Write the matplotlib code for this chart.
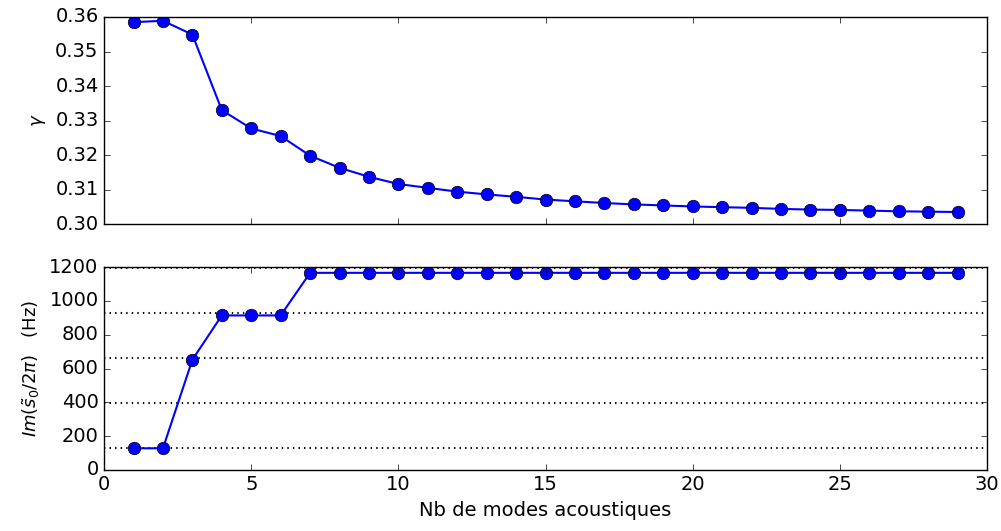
import numpy as np
import matplotlib
matplotlib.use("Agg")
import matplotlib.pyplot as plt

plt.style.use("classic")
plt.rcParams["mathtext.fontset"] = "dejavusans"

# Nb de modes acoustiques
n_modes = np.arange(1, 30)

# gamma vs number of modes
gamma = [0.3585, 0.3589, 0.3549, 0.3330, 0.3277, 0.3255, 0.3198, 0.3163,
         0.3137, 0.3116, 0.3105, 0.3094, 0.3086, 0.3079, 0.3071, 0.3066,
         0.3061, 0.3057, 0.3054, 0.3051, 0.3049, 0.3047, 0.3044, 0.3042,
         0.3041, 0.3039, 0.3037, 0.3036, 0.3035]

# Im(s0/2pi) in Hz
freq = [128, 128, 652, 914, 914, 914] + [1166] * 23

# acoustic mode frequencies (dotted reference lines)
ref_freqs = [130, 396, 662, 928, 1194]

fig = plt.figure(figsize=(10.01, 5.31), dpi=100)
fig.patch.set_facecolor("white")

ax1 = fig.add_axes([0.104, 0.578, 0.882, 0.390])
ax2 = fig.add_axes([0.104, 0.115, 0.882, 0.382])

ax1.plot(n_modes, gamma, "b-", lw=1.5, marker="o", ms=9, mfc="b", mec="k")
ax1.set_xlim(0, 30)
ax1.set_ylim(0.30, 0.36)
ax1.set_yticks([0.30, 0.31, 0.32, 0.33, 0.34, 0.35, 0.36])
ax1.set_xticklabels([])
ax1.set_ylabel(r"$\gamma$", fontsize=13)
ax1.tick_params(labelsize=14)

for f in ref_freqs:
    ax2.axhline(f, color="k", ls=":", lw=1.5)
ax2.plot(n_modes, freq, "b-", lw=1.5, marker="o", ms=9, mfc="b", mec="k")
ax2.set_xlim(0, 30)
ax2.set_ylim(0, 1200)
ax2.set_yticks([0, 200, 400, 600, 800, 1000, 1200])
ax2.set_ylabel(r"$Im(\tilde{s}_0/2\pi)$   (Hz)", fontsize=13)
ax2.set_xlabel("Nb de modes acoustiques", fontsize=14)
ax2.tick_params(labelsize=14)

fig.savefig("out.png", dpi=100, facecolor="white")
